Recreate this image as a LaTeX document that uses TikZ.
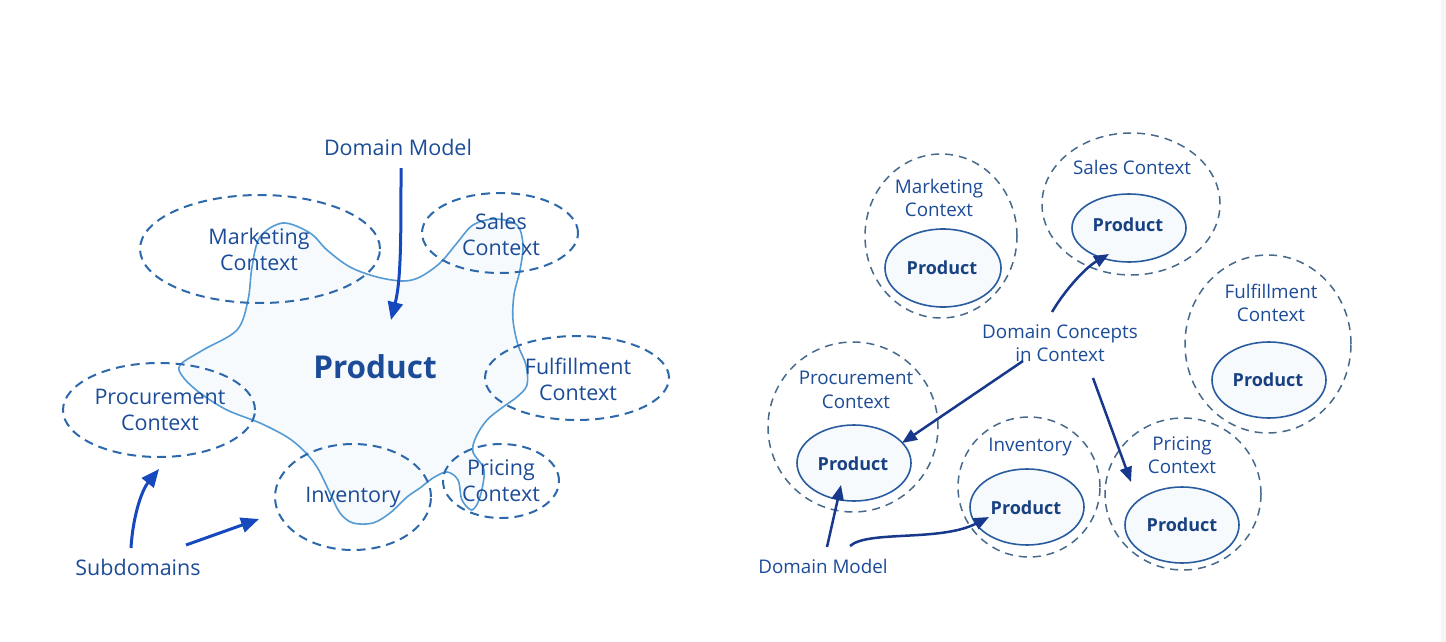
\documentclass[tikz,border=0pt]{standalone}
\usepackage{fontspec}
\setmainfont{Open Sans}
\usetikzlibrary{shapes.geometric,arrows.meta}
\definecolor{txt}{RGB}{28,76,152}
\definecolor{dashL}{RGB}{45,105,170}
\definecolor{dashR}{RGB}{70,105,140}
\definecolor{arrL}{RGB}{22,72,190}
\definecolor{arrR}{RGB}{24,56,140}
\definecolor{inner}{RGB}{40,92,158}
\definecolor{blob}{RGB}{85,155,212}
\definecolor{blobfill}{RGB}{247,250,253}
\tikzset{
  lbl/.style={text=txt,font=\fontsize{21.5}{26}\selectfont,align=center,inner sep=0pt},
  rlbl/.style={text=txt,font=\fontsize{18.8}{23.5}\selectfont,align=center,inner sep=0pt},
  prodlbl/.style={text=txt!85!black,font=\fontsize{18}{20}\selectfont\bfseries,inner sep=0pt},
  dashell/.style={ellipse,draw=dashL,line width=2pt,dash pattern=on 9pt off 6pt,inner sep=0pt},
  rdashell/.style={ellipse,draw=dashR,line width=1.5pt,dash pattern=on 8pt off 6pt,inner sep=0pt},
  innerell/.style={ellipse,draw=inner,line width=1.6pt,fill=blobfill,inner sep=0pt},
  larr/.style={draw=arrL,line width=3pt,-{Triangle[length=18pt,width=15pt]}},
  rarr/.style={draw=arrR,line width=2.5pt,-{Triangle[length=15pt,width=12pt]}},
}
\begin{document}
\begin{tikzpicture}[x=1pt,y=-1pt]
\useasboundingbox (0,0) rectangle (1446,642);
\fill[white] (0,0) rectangle (1446,642);
\fill[gray!7] (1441,0) rectangle (1446,642);

% ---------- left: blob ----------
\draw[blob,line width=1.6pt,fill=blobfill] plot[smooth cycle,tension=0.55] coordinates {
(180,365) (203,350) (237,330) (248,300) (252,267) (260,237) (283,223) (310,233)
(327,250) (350,267) (377,277) (403,281) (420,277) (440,263) (457,243) (473,225)
(495,219) (517,225) (523,245) (520,270) (514,295) (513,320) (518,345) (526,365)
(527,385) (517,397) (503,407) (487,420) (476,437) (473,452) (484,470) (480,497)
(472,510) (462,500) (458,480) (447,472) (433,478) (420,488) (407,497) (390,513)
(373,523) (353,523) (340,513) (330,493) (317,467) (303,450) (287,437) (260,423)
(227,410) (200,393) (183,377)};

% ---------- left: subdomain ellipses ----------
\node[dashell,minimum width=240pt,minimum height=108pt] (mk) at (260,249) {};
\node[dashell,minimum width=156pt,minimum height=80pt] (sa) at (500,233) {};
\node[dashell,minimum width=184pt,minimum height=84pt] (fu) at (577,378) {};
\node[dashell,minimum width=192pt,minimum height=94pt] (pc) at (159,410) {};
\node[dashell,minimum width=156pt,minimum height=106pt] (iv) at (353,497) {};
\node[dashell,minimum width=116pt,minimum height=74pt] (pr) at (501,481) {};

\node[lbl] (mkt) at (259,249) {Marketing\\Context};
\node[lbl] (sat) at (501,234) {Sales\\Context};
\node[lbl] (fut) at (578,379) {Fulfillment\\Context};
\node[lbl] (pct) at (160,410) {Procurement\\Context};
\node[lbl] (ivt) at (353,497) {Inventory};
\node[lbl] (prt) at (501,481) {Pricing\\Context};

\node[text=txt,font=\fontsize{31.5}{36}\selectfont\bfseries,inner sep=0pt] (prod) at (375,367) {Product};
\node[lbl] (dmL) at (398,147) {Domain Model};
\node[lbl] (sub) at (138,567) {Subdomains};

\coordinate (dmLs) at (401,168);
\coordinate (dmLe) at (391,320);
\draw[larr] (dmLs) .. controls (401,240) and (401,280) .. (dmLe);
\coordinate (sb1s) at (131,548);
\coordinate (sb1e) at (159,469);
\draw[larr] (sb1s) .. controls (133,515) and (142,490) .. (sb1e);
\coordinate (sb2s) at (186,545);
\coordinate (sb2e) at (259,519);
\draw[larr] (sb2s) -- (sb2e);

% ---------- right: contexts ----------
\node[rdashell,minimum width=152pt,minimum height=164pt] (Rmk) at (941,236) {};
\node[rdashell,minimum width=178pt,minimum height=142pt] (Rsa) at (1131,204) {};
\node[rdashell,minimum width=166pt,minimum height=178pt] (Rfu) at (1268,344) {};
\node[rdashell,minimum width=170pt,minimum height=170pt] (Rpc) at (853,427) {};
\node[rdashell,minimum width=142pt,minimum height=140pt] (Riv) at (1029,487) {};
\node[rdashell,minimum width=156pt,minimum height=152pt] (Rpr) at (1183,494) {};

\node[innerell,minimum width=116pt,minimum height=78pt] (Pmk) at (943,268) {};
\node[innerell,minimum width=114pt,minimum height=68pt] (Psa) at (1129,228) {};
\node[innerell,minimum width=114pt,minimum height=76pt] (Pfu) at (1269,380) {};
\node[innerell,minimum width=114pt,minimum height=76pt] (Ppc) at (854,463) {};
\node[innerell,minimum width=114pt,minimum height=76pt] (Piv) at (1027,507) {};
\node[innerell,minimum width=114pt,minimum height=76pt] (Ppr) at (1182,525) {};

\node[prodlbl] at (942,268) {Product};
\node[prodlbl] at (1128,225) {Product};
\node[prodlbl] at (1268,380) {Product};
\node[prodlbl] at (853,464) {Product};
\node[prodlbl] at (1026,508) {Product};
\node[prodlbl] at (1182,525) {Product};

\node[rlbl] at (939,198) {Marketing\\Context};
\node[rlbl] at (1132,167) {Sales Context};
\node[rlbl] at (1271,303) {Fulfillment\\Context};
\node[rlbl] at (856,390) {Procurement\\Context};
\node[rlbl] at (1030,447) {Inventory};
\node[rlbl] at (1182,455) {Pricing\\Context};

\node[rlbl] (dc) at (1060,343) {Domain Concepts\\in Context};
\node[rlbl] (dmR) at (823,566) {Domain Model};

\coordinate (a1s) at (1052,312);
\coordinate (a1e) at (1109,254);
\draw[rarr] (a1s) .. controls (1065,290) and (1085,268) .. (a1e);
\coordinate (a2s) at (1023,361);
\coordinate (a2e) at (902,443);
\draw[rarr] (a2s) -- (a2e);
\coordinate (a3s) at (1093,378);
\coordinate (a3e) at (1131,482);
\draw[rarr] (a3s) -- (a3e);
\coordinate (a4s) at (827,547);
\coordinate (a4e) at (841,485);
\draw[rarr] (a4s) -- (a4e);
\coordinate (a5s) at (850,546);
\coordinate (a5e) at (989,517);
\draw[rarr] (a5s) .. controls (868,530) and (940,542) .. (a5e);
\end{tikzpicture}
\end{document}
